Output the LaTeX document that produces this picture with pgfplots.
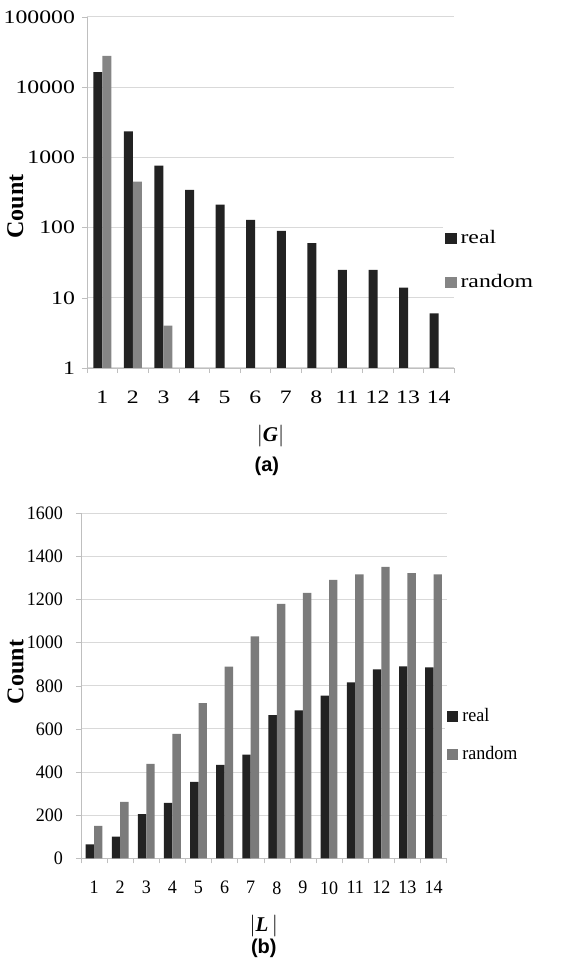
\documentclass[border=0pt]{standalone}
\usepackage{fontspec}
\setmainfont{Liberation Serif}
\newfontfamily\topfont[FakeStretch=1.25]{Liberation Serif}
\newfontfamily\botfont[FakeStretch=0.95]{Liberation Serif}
\newfontfamily\capfont{Liberation Sans}
\usepackage{pgfplots}
\pgfplotsset{compat=1.18}
\definecolor{realc}{HTML}{222222}
\definecolor{randa}{HTML}{858585}
\definecolor{randb}{HTML}{7B7B7B}
\definecolor{gridc}{HTML}{D9D9D9}
\definecolor{axc}{HTML}{BFBFBF}

\pgfplotsset{
  common/.style={
    scale only axis,
    anchor=south west,
    ybar=0pt,
    axis x line*=bottom,
    axis y line*=left,
    axis line style={draw=axc,-},
    ymajorgrids,
    grid style={draw=gridc, line width=0.5pt},
    xtick=data,
    xtick style={draw=none},
    minor tick length=2.5pt,
    major tick length=2.5pt,
    tick align=outside,
    ytick style={draw=axc},
    minor x tick style={draw=axc},
    /pgf/number format/assume math mode=true,
    /pgf/number format/1000 sep={},
    legend style={draw=none, fill=white, anchor=west, legend cell align=left, inner sep=1pt},
    legend image code/.code={\fill[##1,draw=none] (0pt,-2.8pt) rectangle (5.6pt,2.8pt);},
    ylabel style={anchor=center},
    clip=false,
  }
}

\begin{document}
\begin{tikzpicture}
\useasboundingbox (0pt,0pt) rectangle (294pt,483pt);

% ---------- (a) ----------
\begin{axis}[common,
  at={(43.5pt,299pt)}, width=183.5pt, height=175.5pt,
  ymode=log, ymin=1, ymax=100000,
  ytick={1,10,100,1000,10000,100000},
  yticklabels={1,10,100,1000,10000,100000},
  yminorticks=false,
  xmin=-0.5, xmax=11.5,
  xticklabels={1,2,3,4,5,6,7,8,11,12,13,14},
  minor xtick={-0.5,0.5,...,11.5},
  bar width=4.5pt,
  tick label style={font=\topfont\fontsize{9.5}{11}\selectfont},
  xticklabel style={yshift=-5.5pt},
  legend style={font=\topfont\fontsize{9.5}{11}\selectfont, at={(axis description cs:0.97,0.306)}, row sep=10pt},
  ylabel={\textbf{Count}},
  ylabel style={at={(axis description cs:-0.195,0.46)}, font=\fontsize{12}{14}\selectfont},
  xlabel={$|$\textbf{\textit{G}}$|$},
  xlabel style={at={(axis description cs:0.5,-0.194)}, anchor=center, font=\fontsize{10.5}{12}\selectfont},
  extra description/.code={\node[font=\capfont\bfseries\fontsize{10}{12}\selectfont] at (axis description cs:0.49,-0.279) {(a)};},
]
\addplot[fill=realc, draw=none] coordinates {
  (0,16400) (1,2350) (2,765) (3,345) (4,213) (5,129)
  (6,90) (7,60) (8,25) (9,25) (10,14) (11,6)
};
\addplot[fill=randa, draw=none] coordinates {
  (0,28000) (1,450) (2,4)
};
\legend{real,random}
\end{axis}

% ---------- (b) ----------
\begin{axis}[common,
  at={(40.5pt,53.85pt)}, width=182.8pt, height=172.5pt,
  ymin=0, ymax=1600,
  ytick={0,200,400,600,800,1000,1200,1400,1600},
  yticklabels={0,200,400,600,800,1000,1200,1400,1600},
  xmin=-0.5, xmax=13.5,
  xticklabels={1,2,3,4,5,6,7,8,9,10,11,12,13,14},
  minor xtick={-0.5,0.5,...,13.5},
  bar width=4.2pt,
  tick label style={font=\botfont\fontsize{9.5}{11}\selectfont},
  xticklabel style={yshift=-5.5pt},
  yticklabel style={xshift=-3pt},
  legend style={font=\botfont\fontsize{9.5}{11}\selectfont, at={(axis description cs:0.995,0.356)}, row sep=7pt},
  ylabel={\textbf{Count}},
  ylabel style={at={(axis description cs:-0.179,0.54)}, font=\fontsize{12}{14}\selectfont},
  xlabel={$|$\textbf{\textit{L}}\,$|$},
  xlabel style={at={(axis description cs:0.5,-0.196)}, anchor=center, font=\fontsize{10.5}{12}\selectfont},
  extra description/.code={\node[font=\capfont\bfseries\fontsize{10}{12}\selectfont] at (axis description cs:0.5,-0.26) {(b)};},
]
\addplot[fill=realc, draw=none] coordinates {
  (0,65) (1,100) (2,205) (3,257) (4,355) (5,433) (6,481)
  (7,664) (8,686) (9,754) (10,816) (11,876) (12,890) (13,885)
};
\addplot[fill=randb, draw=none] coordinates {
  (0,150) (1,262) (2,438) (3,577) (4,720) (5,889) (6,1029)
  (7,1180) (8,1231) (9,1291) (10,1317) (11,1351) (12,1322) (13,1317)
};
\legend{real,random}
\end{axis}
\end{tikzpicture}
\end{document}
